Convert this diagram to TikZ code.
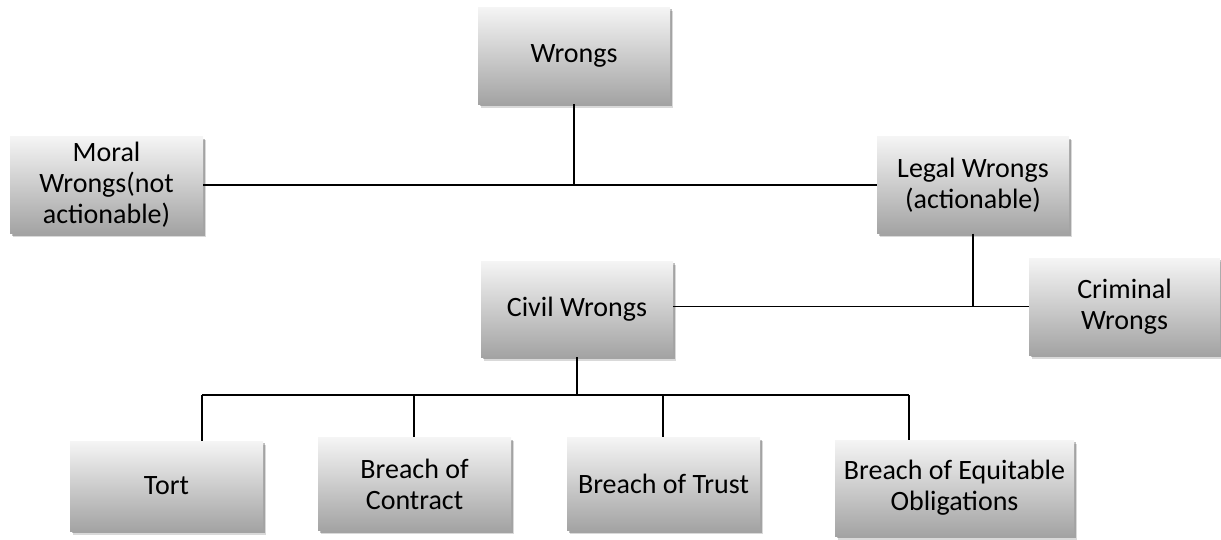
\documentclass[tikz,border=0pt]{standalone}
\usepackage{fontspec}
\setmainfont{Carlito}
\usetikzlibrary{shadows}
\begin{document}
\begin{tikzpicture}[x=1pt,y=-1pt,
  box/.style={shade, top color=black!4, middle color=black!13, bottom color=black!36,
    draw=none, align=center, inner sep=0pt, font=\fontsize{28}{31}\selectfont,
    general shadow={shadow xshift=3pt, shadow yshift=-3.5pt, opacity=0.15, fill=black},
    drop shadow={shadow xshift=1.8pt, shadow yshift=-2.2pt, opacity=0.25, fill=black}},
  link/.style={line width=1.7pt, black}]
\useasboundingbox (0,0) rectangle (1221,539);
\node[box, minimum width=192pt, minimum height=97pt] (wr) at (574,55.5) {Wrongs};
\node[box, minimum width=193pt, minimum height=97pt] (moral) at (106.5,185) {Moral\\Wrongs(not\\actionable)};
\node[box, minimum width=192pt, minimum height=97pt] (legal) at (973,185) {Legal Wrongs\\(actionable)};
\node[box, minimum width=192pt, minimum height=96pt] (civil) at (577,309) {Civil Wrongs};
\node[box, minimum width=191pt, minimum height=97pt] (crim) at (1124.5,306.5) {Criminal\\Wrongs};
\node[box, minimum width=193pt, minimum height=90pt] (tort) at (166.5,486) {Tort};
\node[box, minimum width=193pt, minimum height=93pt] (contract) at (414.5,484) {Breach of\\Contract};
\node[box, minimum width=193pt, minimum height=93pt] (trust) at (663.5,484) {Breach of Trust};
\node[box, minimum width=239pt, minimum height=96pt] (equit) at (954.5,488) {Breach of Equitable\\Obligations};
\coordinate (bus) at (577,395);
\coordinate (b1) at (202,395);
\coordinate (b2) at (414,395);
\coordinate (b3) at (663,395);
\coordinate (b4) at (909,395);
\draw[link] (wr.south) -- (wr.south |- moral.east);
\draw[link] (moral.east) -- (legal.west);
\draw[link] (legal.south) -- (legal.south |- crim.west);
\draw[link] (civil.east |- crim.west) -- (crim.west);
\draw[link] (civil.south) -- (bus);
\draw[link] (b1) -- (b4);
\draw[link] (b1) -- (b1 |- tort.north);
\draw[link] (b2) -- (b2 |- contract.north);
\draw[link] (b3) -- (b3 |- trust.north);
\draw[link] (b4) -- (b4 |- equit.north);
\end{tikzpicture}
\end{document}
